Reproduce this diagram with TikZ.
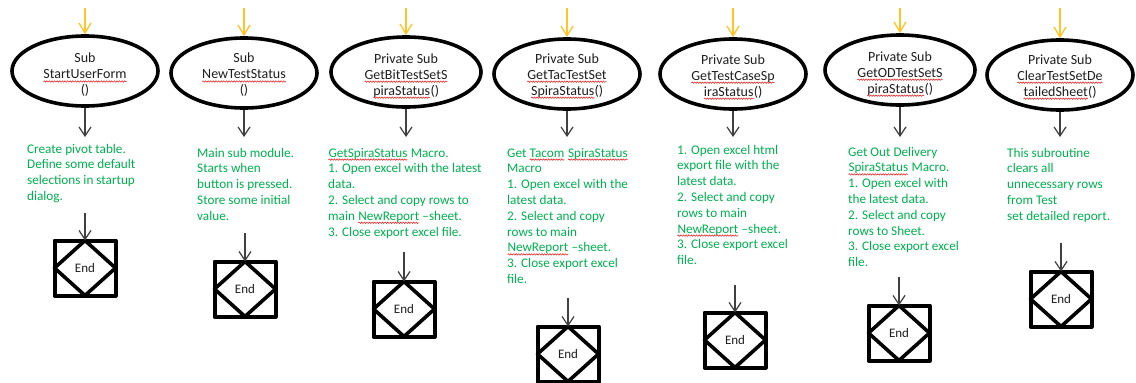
\documentclass[tikz,border=0pt]{standalone}
\usepackage{fontspec}
\setmainfont{Carlito}
\usetikzlibrary{arrows.meta,shapes.geometric,decorations.pathmorphing}

\definecolor{notegreen}{RGB}{0,176,80}
\definecolor{feedorange}{RGB}{255,196,40}
\definecolor{spellred}{RGB}{225,45,45}

% red wavy underline below a word, the word keeps the colour in force
\newcommand\spell[1]{\tikz[baseline=(w.base)]{%
  \node[inner sep=0pt, outer sep=0pt, anchor=base] (w) {#1};%
  \draw[spellred, line width=0.6pt, decorate,
        decoration={snake, amplitude=0.7pt, segment length=2.6pt}]
    ([yshift=-2.6pt]w.base west) -- ([yshift=-2.6pt]w.base east);}}

\tikzset{
  oval/.style={ellipse, draw, line width=3.6pt, minimum height=70pt, inner sep=0pt},
  sig/.style={align=center, font=\fontsize{14}{16}\selectfont, text=black!88, inner sep=0pt},
  % anchored at the baseline of the last line
  note/.style={align=left, anchor=base west, font=\fontsize{13.2}{15.8}\selectfont, text=notegreen, inner sep=0pt},
  endbox/.style={rectangle, draw, line width=4pt, minimum width=61pt, minimum height=55pt,
    inner sep=0pt, outer sep=0pt, font=\fontsize{13}{15}\selectfont, text=black!88, line join=round},
  diam/.style={line width=3.6pt, line join=round},
  flow/.style={draw=black!75, line width=1.2pt, -{Straight Barb[length=9pt,width=12pt]}},
  feed/.style={draw=feedorange, line width=1.3pt, -{Straight Barb[length=10pt,width=12pt]}}
}

\begin{document}
\begin{tikzpicture}[x=1pt, y=-1pt]
\useasboundingbox (0,0) rectangle (1136,383);
\fill[white] (0,0) rectangle (1136,383);

% procedure ovals with their incoming and outgoing arrows
\foreach \i/\x/\y/\w in {1/85/71/146, 2/244/73/146, 3/406/72/150, 4/567/74/146,
                         5/733/74/146, 6/900/70/150, 7/1060/75/146}{
  \node[oval, minimum width=\w pt] (e\i) at (\x,\y) {};
  \coordinate (top\i) at (\x,8);
  \coordinate (low\i) at (\x,137);
  \draw[feed] (top\i) -- (e\i.north);
  \draw[flow] (e\i.south) -- (low\i);
}

% procedure names
\node[sig] (s1) at (85,75) {Sub\\\spell{StartUserForm}\\()};
\node[sig] (s2) at (244,75) {Sub\\\spell{NewTestStatus}\\()};
\node[sig] (s3) at (406,76) {Private Sub\\\spell{GetBitTestSetS}\\\spell{piraStatus}()};
\node[sig] (s4) at (567,76) {Private Sub\\\spell{GetTacTestSet}\\\spell{SpiraStatus}()};
\node[sig] (s5) at (733,77) {Private Sub\\\spell{GetTestCaseSp}\\\spell{iraStatus}()};
\node[sig] (s6) at (900,74) {Private Sub\\\spell{GetODTestSetS}\\\spell{piraStatus}()};
\node[sig] (s7) at (1060,77) {Private Sub\\\spell{ClearTestSetDe}\\\spell{tailedSheet}()};

% descriptions
\node[note] (d1) at (27,200.4) {Create pivot table.\\Define some default\\selections in startup\\dialog.};
\node[note] (d2) at (197,220.2) {Main sub module.\\Starts when\\button is pressed.\\Store some initial\\value.};
\node[note] (d3) at (328,236) {\spell{GetSpiraStatus} Macro.\\1. Open excel with the latest\\data.\\2. Select and copy rows to\\main \spell{NewReport} –sheet.\\3. Close export excel file.};
\node[note] (d4) at (507,283.4) {Get \spell{Tacom} \spell{SpiraStatus}\\Macro\\1. Open excel with the\\latest data.\\2. Select and copy\\rows to main\\\spell{NewReport} –sheet.\\3. Close export excel\\file.};
\node[note] (d5) at (677,264.6) {1. Open excel html\\export file with the\\latest data.\\2. Select and copy\\rows to main\\\spell{NewReport} –sheet.\\3. Close export excel\\file.};
\node[note] (d6) at (848,266.6) {Get Out Delivery\\\spell{SpiraStatus} Macro.\\1. Open excel with\\the latest data.\\2. Select and copy\\rows to Sheet.\\3. Close export excel\\file.};
\node[note] (d7) at (1007,220.2) {This subroutine\\clears all\\unnecessary rows\\from Test\\set detailed report.};

% end terminators
\foreach \i/\x/\y/\s in {1/85/268/213, 2/245/289/233, 3/404/309/252, 4/568/354/298,
                         5/735/340/285, 6/899/333/277, 7/1061/299/243}{
  \node[endbox] (x\i) at (\x,\y) {End};
  \draw[diam] (x\i.north) -- (x\i.east) -- (x\i.south) -- (x\i.west) -- cycle;
  \coordinate (in\i) at (\x,\s);
  \draw[flow] (in\i) -- (x\i.north);
}
\end{tikzpicture}
\end{document}
